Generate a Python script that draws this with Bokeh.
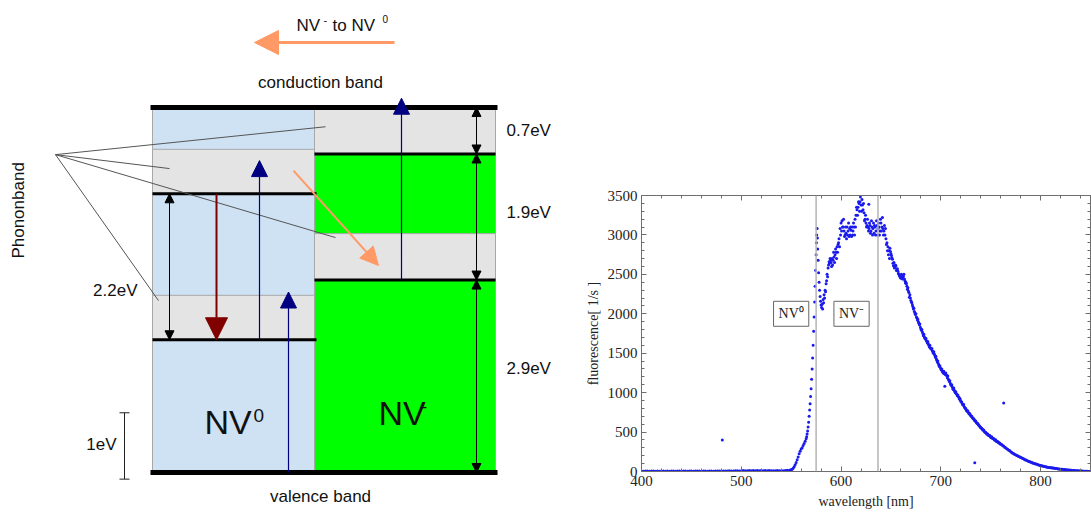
from math import pi

from bokeh.plotting import figure
from bokeh.layouts import row, column
from bokeh.models import (Range1d, Arrow, NormalHead, Label, Span, LinearAxis,
                          FixedTicker, Spacer, CustomJSTickFormatter)
from bokeh.embed import file_html
from bokeh.resources import INLINE

# ---------------------------------------------------------------------------
# Energy level scheme, energies in eV above the valence band edge
# ---------------------------------------------------------------------------
band_gap = 5.5
nv0_levels = [2.0, 4.2]              # NV0 ground, excited
nvm_levels = [2.9, 4.8]              # NV- ground, excited
nv0_phonon_bands = [(2.0, 2.67), (4.2, 4.87)]
nvm_phonon_bands = [(2.9, 3.6), (4.8, 5.5)]
gap_labels = ["0.7eV", "1.9eV", "2.9eV"]
nv0_gap_label = "2.2eV"

# ---------------------------------------------------------------------------
# Fluorescence spectrum (wavelength in nm, counts in 1/s)
# ---------------------------------------------------------------------------
baseline_nm = list(range(400, 548, 2))
baseline_counts = [6, 4, 5, 7, 3, 5, 6, 4, 5, 3, 6, 5, 4, 6, 3, 5, 6, 4, 5, 7,
                   4, 6, 5, 3, 5, 6, 4, 5, 7, 5, 4, 6, 5, 3, 6, 5, 4, 6, 5, 7,
                   6, 5, 7, 6, 8, 6, 7, 9, 8, 7, 10, 12, 9, 11, 13, 10, 12, 11, 13, 10,
                   12, 11, 13, 10, 12, 9, 11, 10, 12, 9, 11, 10, 13, 16]

rise_nm = [548, 549, 550, 551, 552, 553, 554, 555, 556, 557, 558, 559, 560, 561,
           562, 563, 564, 565, 565.5, 566, 566.5, 567, 567.5, 568, 568.5, 569,
           569.5, 570, 570.5, 571, 571.5, 572, 572.5, 573, 573.5, 574, 574.5,
           575, 575.3, 575.6, 576]
rise_counts = [14, 18, 22, 30, 42, 60, 85, 115, 150, 185, 225, 258, 285, 300,
               330, 355, 385, 415, 440, 475, 515, 565, 625, 700, 780, 860,
               950, 1050, 1170, 1300, 1440, 1600, 1780, 1960, 2150, 2350, 2550,
               2750, 2900, 3000, 3080]

dip_nm = [576.3, 576.6, 577, 577.5, 578, 578.5, 579, 579.5, 580, 580.5,
          581, 581.5, 582, 582.5, 583, 583.5, 584, 584.5, 585, 585.5,
          586, 586.5, 587, 587.5, 588, 588.5, 589, 589.5]
dip_counts = [2960, 2820, 2680, 2520, 2400, 2300, 2220, 2160, 2110, 2080,
              2120, 2060, 2180, 2140, 2240, 2200, 2300, 2280, 2380, 2420,
              2500, 2470, 2580, 2620, 2660, 2640, 2700, 2680]

band_nm = list(range(590, 649))
band_counts = [2650, 2700, 2680, 2720, 2750, 2780, 2850, 2880, 2950, 3080,
               3150, 3180, 3100, 3050, 3000, 3020, 3100, 3050, 2980, 3000,
               3060, 3100, 3050, 3100, 3200, 3250, 3320, 3350, 3400, 3420,
               3380, 3450, 3320, 3280, 3200, 3150, 3120, 3100, 3080, 3120,
               3050, 3100, 3080, 3020, 3100, 3050, 3120, 3080, 3100, 3050,
               3150, 3100, 3080, 3050, 3000, 2950, 2900, 2850, 2800]
band_mid_nm = [w + 0.5 for w in band_nm]
band_mid_counts = [2600, 2620, 2780, 2650, 2820, 2700, 2780, 2900, 2850, 3000,
                   3050, 3100, 3200, 2980, 3100, 2950, 3000, 3150, 3080, 3100,
                   2980, 3000, 3150, 3000, 3100, 3350, 3250, 3420, 3300, 3480,
                   3300, 3380, 3400, 3180, 3250, 3100, 3200, 3050, 3150, 3020,
                   3180, 3000, 3150, 3120, 3000, 3180, 3000, 3150, 3000, 3200,
                   3050, 3220, 3000, 3120, 3080, 2880, 2800, 2750, 2700]

tail_nm = list(range(649, 851))
tail_counts = [2830, 2760, 2710, 2640, 2650, 2590, 2610, 2560, 2540, 2500,
               2490, 2450, 2480, 2460, 2500, 2420, 2400, 2350, 2330, 2270,
               2240, 2170, 2140, 2090, 2070, 2010, 2000, 1950, 1930, 1880,
               1870, 1810, 1800, 1750, 1740, 1690, 1690, 1650, 1650, 1600,
               1600, 1560, 1560, 1520, 1520, 1470, 1460, 1410, 1400, 1350,
               1340, 1300, 1300, 1260, 1270, 1240, 1250, 1220, 1210, 1160,
               1150, 1100, 1100, 1050, 1060, 1010, 1010, 980, 970, 940,
               930, 890, 880, 850, 850, 810, 800, 770, 770, 740,
               735, 710, 700, 680, 670, 645, 640, 615, 610, 585,
               575, 555, 550, 525, 525, 500, 495, 475, 475, 455,
               455, 435, 440, 420, 418, 400, 402, 382, 380, 365,
               360, 345, 342, 328, 322, 306, 302, 287, 282, 268,
               265, 250, 245, 233, 228, 215, 212, 203, 200, 190,
               188, 178, 175, 165, 162, 150, 148, 139, 136, 128,
               126, 118, 116, 109, 106, 99, 97, 91, 88, 83,
               80, 75, 72, 70, 66, 63, 60, 56, 55, 52,
               50, 48, 46, 44, 43, 40, 39, 37, 35, 33,
               32, 30, 29, 27, 26, 24, 23, 21, 20, 19,
               18, 17, 16, 14, 14, 12, 11, 10, 9, 8,
               7, 6, 5, 5, 4, 3, 3, 2, 2, 1,
               1, 0]
tail_mid_nm = [w + 0.5 for w in range(649, 760)]
tail_mid_counts = [2790, 2740, 2690, 2610, 2580, 2620, 2550, 2570, 2510, 2480,
                   2460, 2500, 2440, 2480, 2440, 2390, 2380, 2310, 2290, 2210,
                   2200, 2150, 2110, 2060, 2030, 1990, 1960, 1920, 1900, 1860,
                   1830, 1790, 1770, 1720, 1710, 1680, 1660, 1630, 1620, 1580,
                   1570, 1550, 1530, 1500, 1490, 1450, 1430, 1390, 1370, 1330,
                   1320, 1290, 1270, 1250, 1240, 1230, 1220, 1190, 1170, 1140,
                   1120, 1090, 1070, 1040, 1030, 1000, 990, 960, 950, 920,
                   910, 880, 860, 840, 820, 800, 780, 765, 750, 730,
                   715, 700, 685, 670, 655, 640, 625, 610, 595, 580,
                   565, 552, 538, 525, 512, 498, 486, 474, 462, 452,
                   445, 432, 425, 414, 405, 395, 388, 377, 370, 360, 352]

outlier_nm = [481, 627.8, 704, 734, 763]
outlier_counts = [400, 3390, 1080, 110, 870]

zpl_nm = [575, 637]                 # NV0 and NV- zero phonon lines
x_major = [400, 500, 600, 700, 800]
x_minor = list(range(400, 851, 20))
y_major = [0, 500, 1000, 1500, 2000, 2500, 3000, 3500]
y_minor = list(range(0, 3501, 100))

SANS = "Liberation Sans"
SERIF = "Liberation Serif"

# ---------------------------------------------------------------------------
# Left panel: band scheme
# ---------------------------------------------------------------------------
PX_PER_EV = 66.36
d = figure(width=560, height=514, x_range=Range1d(0, 560),
           y_range=Range1d(-42 / PX_PER_EV, 472 / PX_PER_EV),
           output_backend="svg", toolbar_location=None,
           x_axis_location=None, y_axis_location=None, min_border=0)
d.grid.visible = False
d.outline_line_color = None

NV0_X = (152, 314)
NVM_X = (314, 495)
LIGHT_BLUE = "#cfe2f3"
GREEN = "#00ff00"
PHONON_GRAY = "#e4e4e4"
EDGE = "#a8a8a8"

d.quad(left=NV0_X[0], right=NV0_X[1], bottom=0, top=band_gap,
       fill_color=LIGHT_BLUE, line_color=EDGE, line_width=1)
d.quad(left=NVM_X[0], right=NVM_X[1], bottom=0, top=band_gap,
       fill_color=GREEN, line_color=EDGE, line_width=1)
d.quad(left=[NV0_X[0]] * 2, right=[NV0_X[1]] * 2,
       bottom=[b for b, _ in nv0_phonon_bands], top=[t for _, t in nv0_phonon_bands],
       fill_color=PHONON_GRAY, line_color=EDGE, line_width=1)
d.quad(left=[NVM_X[0]] * 2, right=[NVM_X[1]] * 2,
       bottom=[b for b, _ in nvm_phonon_bands], top=[t for _, t in nvm_phonon_bands],
       fill_color=PHONON_GRAY, line_color=EDGE, line_width=1)

# defect levels
d.segment(x0=[NV0_X[0]] * 2, x1=[NV0_X[1] + 2] * 2, y0=nv0_levels, y1=nv0_levels,
          line_color="black", line_width=3)
d.segment(x0=[NVM_X[0]] * 2, x1=[NVM_X[1]] * 2, y0=nvm_levels, y1=nvm_levels,
          line_color="black", line_width=3)
# band edges
d.segment(x0=[NV0_X[0] - 2] * 2, x1=[NVM_X[1] + 2] * 2, y0=[0, band_gap],
          y1=[0, band_gap], line_color="black", line_width=5)

# "Phononband" pointer lines
hub = (55, 4.79)
targets_x = [325, 169, 335, 158]
targets_y = [5.21, 4.58, 3.54, 2.59]
d.segment(x0=[hub[0]] * 4, y0=[hub[1]] * 4, x1=targets_x, y1=targets_y,
          line_color="#555555", line_width=1)

NAVY = "#000080"
DARK_RED = "#800000"
ORANGE = "#ff9966"


def arrow(x0, y0, x1, y1, color, width, size, both=False):
    head = NormalHead(size=size, fill_color=color, line_color=color, line_width=1)
    kw = dict(end=head, x_start=x0, y_start=y0, x_end=x1, y_end=y1,
              line_color=color, line_width=width)
    if both:
        kw["start"] = NormalHead(size=size, fill_color=color, line_color=color,
                                 line_width=1)
    d.add_layout(Arrow(**kw))


# optical transitions
arrow(401, nvm_levels[0], 401, band_gap + 0.14, NAVY, 1.2, 16)
arrow(259, nv0_levels[0], 259, 4.70, NAVY, 1.2, 16)
arrow(288, 0, 288, 2.72, NAVY, 1.2, 16)
arrow(216, nv0_levels[1], 216, nv0_levels[0], DARK_RED, 2, 22)
arrow(293, 4.55, 378, 3.12, ORANGE, 2, 18)

# energy spacings
x_gap = 476
spans = [(nvm_levels[1], band_gap), (nvm_levels[0], nvm_levels[1]), (0, nvm_levels[0])]
for lo, hi in spans:
    arrow(x_gap, lo, x_gap, hi, "black", 1, 9, both=True)
arrow(169, nv0_levels[0], 169, nv0_levels[1], "black", 1, 9, both=True)

# conversion arrow at the top
arrow(394, 6.48, 254, 6.48, ORANGE, 3, 24)


def txt(x, y, text, size="17px", align="center", angle=0, font=SANS,
        color="#111111"):
    d.add_layout(Label(x=x, y=y, text=text, text_font=font, text_font_size=size,
                       text_align=align, text_baseline="middle", angle=angle,
                       text_color=color))


txt(296, 6.74, "NV", size="17px", align="left")
txt(323, 6.82, "-", size="11px", align="left")
txt(332, 6.74, "to NV", size="17px", align="left")
txt(382, 6.84, "0", size="10px", align="left")
txt(320, band_gap + 0.37, "conduction band")
txt(320, -0.36, "valence band")
for y_lab, lab in zip([5.15, 3.92, 1.56], gap_labels):
    txt(506, y_lab, lab, align="left")
txt(137, 2.75, nv0_gap_label, align="right")
txt(116, 0.42, "1eV", align="right")
txt(18, 3.95, "Phononband", angle=pi / 2)

# NV labels inside the columns
txt(204, 0.76, "NV", size="34px", align="left")
txt(253, 0.86, "0", size="19px", align="left")
txt(378, 0.90, "NV", size="34px", align="left")
txt(421, 1.00, "-", size="17px", align="left")

# 1 eV scale bar
d.segment(x0=[124, 119, 119], x1=[124, 129, 129], y0=[-0.1, -0.1, 0.9],
          y1=[0.9, -0.1, 0.9], line_color="#222222", line_width=1)

# ---------------------------------------------------------------------------
# Right panel: fluorescence spectrum
# ---------------------------------------------------------------------------
s = figure(width=531, height=334, x_range=Range1d(400, 850), y_range=Range1d(0, 3500),
           output_backend="svg", toolbar_location=None,
           min_border_left=81, min_border_right=1, min_border_top=15,
           min_border_bottom=43)
s.grid.visible = False
FRAME = "#6e6e6e"
s.outline_line_color = FRAME

for ax, major, minor in ((s.xaxis[0], x_major, x_minor), (s.yaxis[0], y_major, y_minor)):
    ax.ticker = FixedTicker(ticks=major, minor_ticks=minor)
    ax.axis_line_color = FRAME
    ax.major_tick_line_color = FRAME
    ax.minor_tick_line_color = FRAME
    ax.major_tick_in = 5
    ax.major_tick_out = 0
    ax.minor_tick_in = 3
    ax.minor_tick_out = 0
    ax.major_label_text_font = SERIF
    ax.major_label_text_font_size = "15px"
    ax.major_label_text_color = "#222222"
    ax.axis_label_text_font = SERIF
    ax.axis_label_text_font_size = "14px"
    ax.axis_label_text_font_style = "normal"
    ax.axis_label_text_color = "#222222"
    ax.major_label_standoff = 4

s.xaxis.axis_label = "wavelength [nm]"
s.xaxis.axis_label_standoff = 5
s.yaxis.axis_label = "fluorescence[ 1/s ]"
s.yaxis.axis_label_standoff = 4
s.yaxis.major_label_orientation = "horizontal"

blank = CustomJSTickFormatter(code="return ''")
for side, major, minor in (("above", x_major, x_minor), ("right", y_major, y_minor)):
    extra = LinearAxis(ticker=FixedTicker(ticks=major, minor_ticks=minor),
                       formatter=blank,
                       axis_line_color=FRAME, major_tick_line_color=FRAME,
                       minor_tick_line_color=FRAME, major_tick_in=5, major_tick_out=0,
                       minor_tick_in=3, minor_tick_out=0, major_label_standoff=0)
    s.add_layout(extra, side)

for wl in zpl_nm:
    s.add_layout(Span(location=wl, dimension="height", line_color="#b4b4b4",
                      line_width=1.5))

DOT = "#1a1aee"
for xs, ys in ((baseline_nm, baseline_counts), (rise_nm, rise_counts),
               (dip_nm, dip_counts), (band_nm, band_counts),
               (band_mid_nm, band_mid_counts), (tail_nm, tail_counts),
               (tail_mid_nm, tail_mid_counts), (outlier_nm, outlier_counts)):
    s.scatter(xs, ys, size=3, fill_color=DOT, line_color=None)

for xc, lab in ((550, "NV⁰"), (610.5, "NV⁻")):
    s.add_layout(Label(x=xc, y=2000, text=lab, text_font=SERIF, text_font_size="14px",
                       text_align="center", text_baseline="middle",
                       text_color="#222222", border_line_color="#666666",
                       border_line_width=1, background_fill_color="white",
                       padding=5))

layout = row(d, column(Spacer(width=531, height=180), s))
open("out.html", "w").write(file_html(layout, INLINE))
